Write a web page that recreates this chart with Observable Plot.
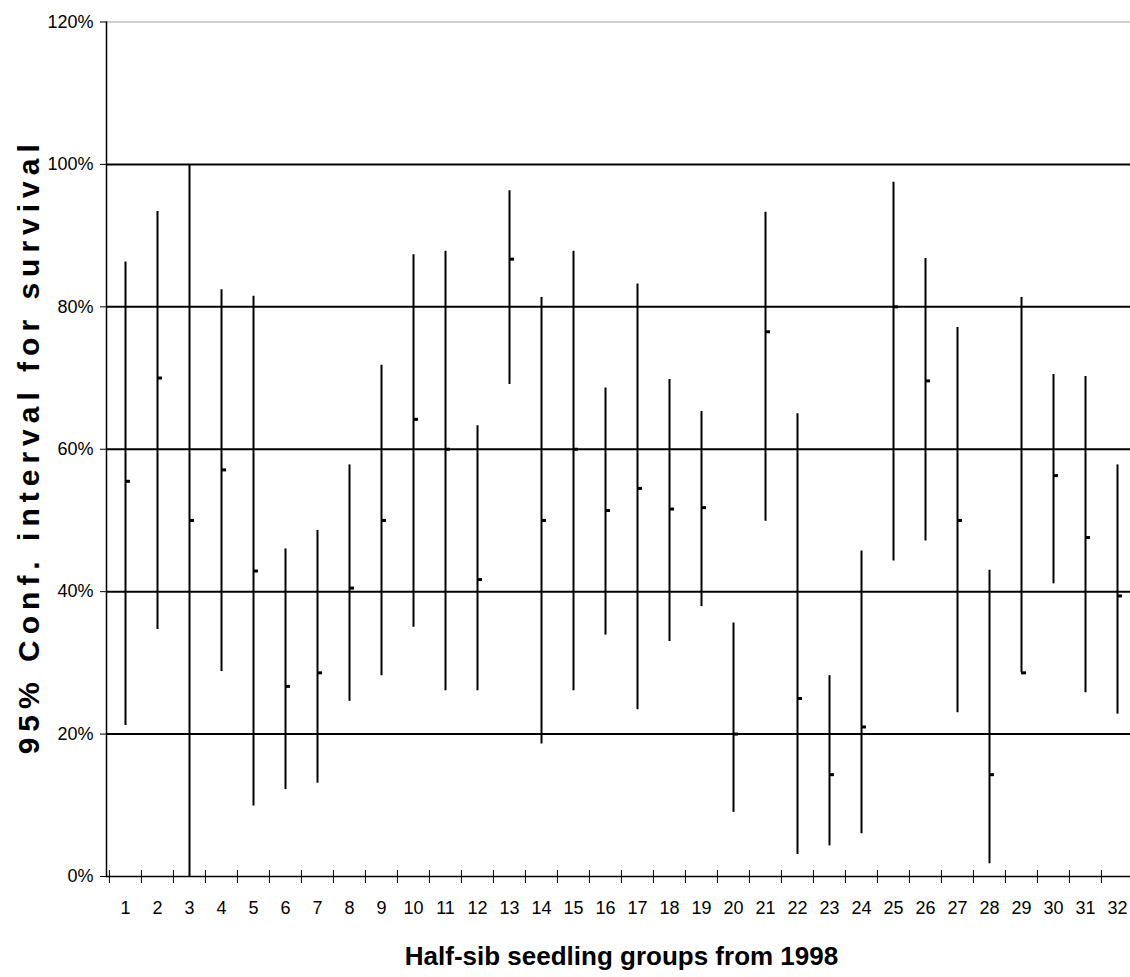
<!DOCTYPE html>
<html><head><meta charset="utf-8">
<script src="https://cdn.jsdelivr.net/npm/d3@7"></script>
<script src="https://cdn.jsdelivr.net/npm/@observablehq/plot@0.6"></script>
<style>
body{margin:0;background:#fff;}
</style></head><body><div id="chart"></div>
<script>
const groups = [1,2,3,4,5,6,7,8,9,10,11,12,13,14,15,16,17,18,19,20,21,22,23,24,25,26,27,28,29,30,31,32];
const lower = [21.2,34.7,0,28.8,9.9,12.2,13.1,24.6,28.2,35.0,26.1,26.1,69.1,18.6,26.1,33.9,23.4,33.0,37.9,9.0,49.9,3.1,4.3,6.0,44.3,47.1,23.0,1.8,28.6,41.1,25.8,22.8];
const upper = [86.3,93.4,100,82.4,81.5,46.0,48.6,57.8,71.8,87.3,87.8,63.3,96.3,81.3,87.8,68.6,83.2,69.8,65.3,35.6,93.3,65.0,28.2,45.7,97.5,86.8,77.1,43.0,81.3,70.5,70.2,57.8];
const mean = [55.5,70.0,50.0,57.1,42.9,26.7,28.6,40.5,50.0,64.2,60.0,41.7,86.7,50.0,60.0,51.4,54.5,51.6,51.8,20.0,76.5,25.0,14.3,21.0,80.0,69.6,50.0,14.3,28.6,56.3,47.6,39.4];
const yTicks = [0,0.2,0.4,0.6,0.8,1.0,1.2];
const gridLines = [0.2,0.4,0.6,0.8,1.0];
const topLine = [1.2];
const xTitle = "Half-sib seedling groups from 1998";
const yTitle = "95% Conf. interval for survival";

const data = groups.map((g,i)=>({group:g, lo:lower[i]/100, hi:upper[i]/100, mean:mean[i]/100}));

const chart = Plot.plot({
  width:1130, height:977,
  marginLeft:106, marginRight:0, marginTop:21.5, marginBottom:101,
  style:{fontFamily:"'Liberation Sans', Arial, sans-serif", background:"#fff", color:"#000"},
  x:{type:"band", domain:groups, range:[106,1135], padding:0, align:0.5},
  y:{domain:[0,1.2], range:[876,21.5]},
  marks:[
    Plot.ruleY(topLine, {stroke:"#c0c0c0", strokeWidth:1.5}),
    Plot.ruleY(gridLines, {stroke:"#000", strokeWidth:2}),
    Plot.ruleX(data, {x:"group", y1:"lo", y2:"hi", stroke:"#000", strokeWidth:2}),
    Plot.tickY(data, {x:"group", y:"mean", insetLeft:16, insetRight:11, stroke:"#000", strokeWidth:3}),
    Plot.axisY({ticks:yTicks, tickFormat:d3.format(".0%"), tickSize:6, tickPadding:7, fontSize:18, label:null}),
    Plot.axisX({tickSize:13, dx:-16.08, dy:-6, tickFormat:()=>"", label:null}),
    Plot.axisX({tickSize:0, tickPadding:25, fontSize:18, label:null}),
    Plot.frame({anchor:"left", stroke:"#000", strokeWidth:1.5}),
    Plot.ruleY([0], {stroke:"#000", strokeWidth:1.5}),
    Plot.text([xTitle], {text:d=>d, frameAnchor:"bottom", dy:80, dx:3, lineAnchor:"middle", fontSize:26, fontWeight:"bold"}),
    Plot.text([yTitle], {text:d=>d, frameAnchor:"left", dx:-77, dy:-3, rotate:-90, textAnchor:"middle", lineAnchor:"middle", fontSize:30, fontWeight:"bold"})
  ]
});
d3.select(chart).selectAll("text").filter(function(){return this.textContent===yTitle;}).style("letter-spacing","6px");
document.getElementById("chart").appendChild(chart);
</script></body></html>
